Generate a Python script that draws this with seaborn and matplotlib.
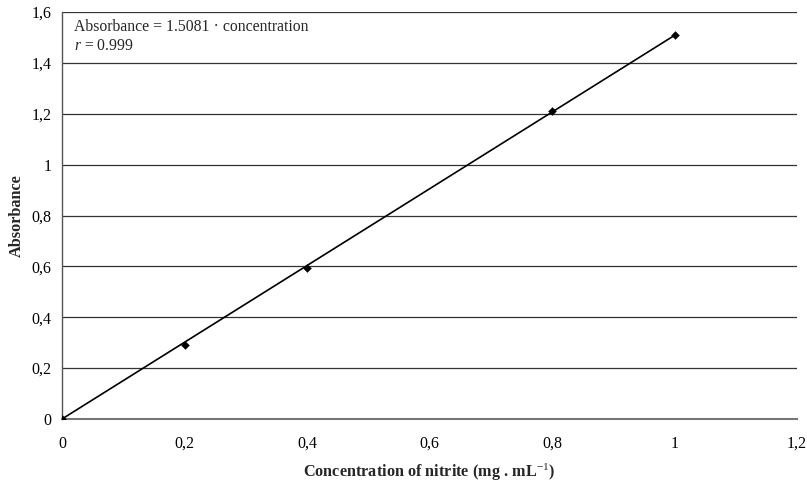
import matplotlib
matplotlib.use("Agg")
import matplotlib.pyplot as plt
import seaborn as sns
import pandas as pd
from matplotlib.ticker import FixedLocator, FixedFormatter

concentration = [0.0, 0.2, 0.4, 0.8, 1.0]
absorbance = [0.0, 0.29, 0.595, 1.21, 1.51]
fit_x = [0.0, 1.0]
fit_y = [0.0, 1.5081]
x_ticks = [0, 0.2, 0.4, 0.6, 0.8, 1.0, 1.2]
x_labels = ["0", "0,2", "0,4", "0,6", "0,8", "1", "1,2"]
y_ticks = [0, 0.2, 0.4, 0.6, 0.8, 1.0, 1.2, 1.4, 1.6]
y_labels = ["0", "0,2", "0,4", "0,6", "0,8", "1", "1,2", "1,4", "1,6"]

sns.set_style("white")
plt.rcParams['font.family'] = ['Liberation Serif', 'DejaVu Serif']
plt.rcParams['mathtext.fontset'] = 'custom'
plt.rcParams['mathtext.rm'] = 'Liberation Serif'
plt.rcParams['mathtext.it'] = 'Liberation Serif:italic'
plt.rcParams['mathtext.bf'] = 'Liberation Serif:bold'

fig = plt.figure(figsize=(8.07, 4.84), dpi=100)
ax = fig.add_axes([62/807, 1 - 419/484, (797-62)/807, (419-12)/484])

pts = pd.DataFrame({"x": concentration, "y": absorbance})
fit = pd.DataFrame({"x": fit_x, "y": fit_y})

sns.lineplot(data=fit, x="x", y="y", ax=ax, color="black", linewidth=1.2, zorder=3)
sns.scatterplot(data=pts, x="x", y="y", ax=ax, marker="D", s=16, color="black",
                edgecolor="black", zorder=4)

ax.set_xlim(0, 1.2)
ax.set_ylim(0, 1.6)
ax.xaxis.set_major_locator(FixedLocator(x_ticks))
ax.xaxis.set_major_formatter(FixedFormatter(x_labels))
ax.yaxis.set_major_locator(FixedLocator(y_ticks))
ax.yaxis.set_major_formatter(FixedFormatter(y_labels))

for yv in y_ticks[1:]:
    ax.axhline(yv, color="#333333", linewidth=0.9, zorder=1)

for side in ["top", "right"]:
    ax.spines[side].set_visible(False)
ax.spines["left"].set_color("#555555")
ax.spines["bottom"].set_color("#777777")
ax.spines["left"].set_linewidth(1.0)
ax.spines["bottom"].set_linewidth(1.5)
ax.tick_params(axis="both", direction="out", length=4, width=1.0, colors="#555555",
               labelcolor="black", labelsize=11.5)
ax.tick_params(axis="x", pad=8)

ax.set_xlabel("Concentration of nitrite (mg . mL$^{-1}$)", fontsize=11.7,
              fontweight="bold", labelpad=7)
ax.set_ylabel("Absorbance", fontsize=11.7, fontweight="bold", labelpad=5)

ax.text(0.016, 0.963, "Absorbance = 1.5081 · concentration", transform=ax.transAxes,
        fontsize=11.3, va="center", ha="left")
ax.text(0.016, 0.917, "$r$ = 0.999", transform=ax.transAxes,
        fontsize=11.3, va="center", ha="left")

fig.savefig("out.png", dpi=100)
